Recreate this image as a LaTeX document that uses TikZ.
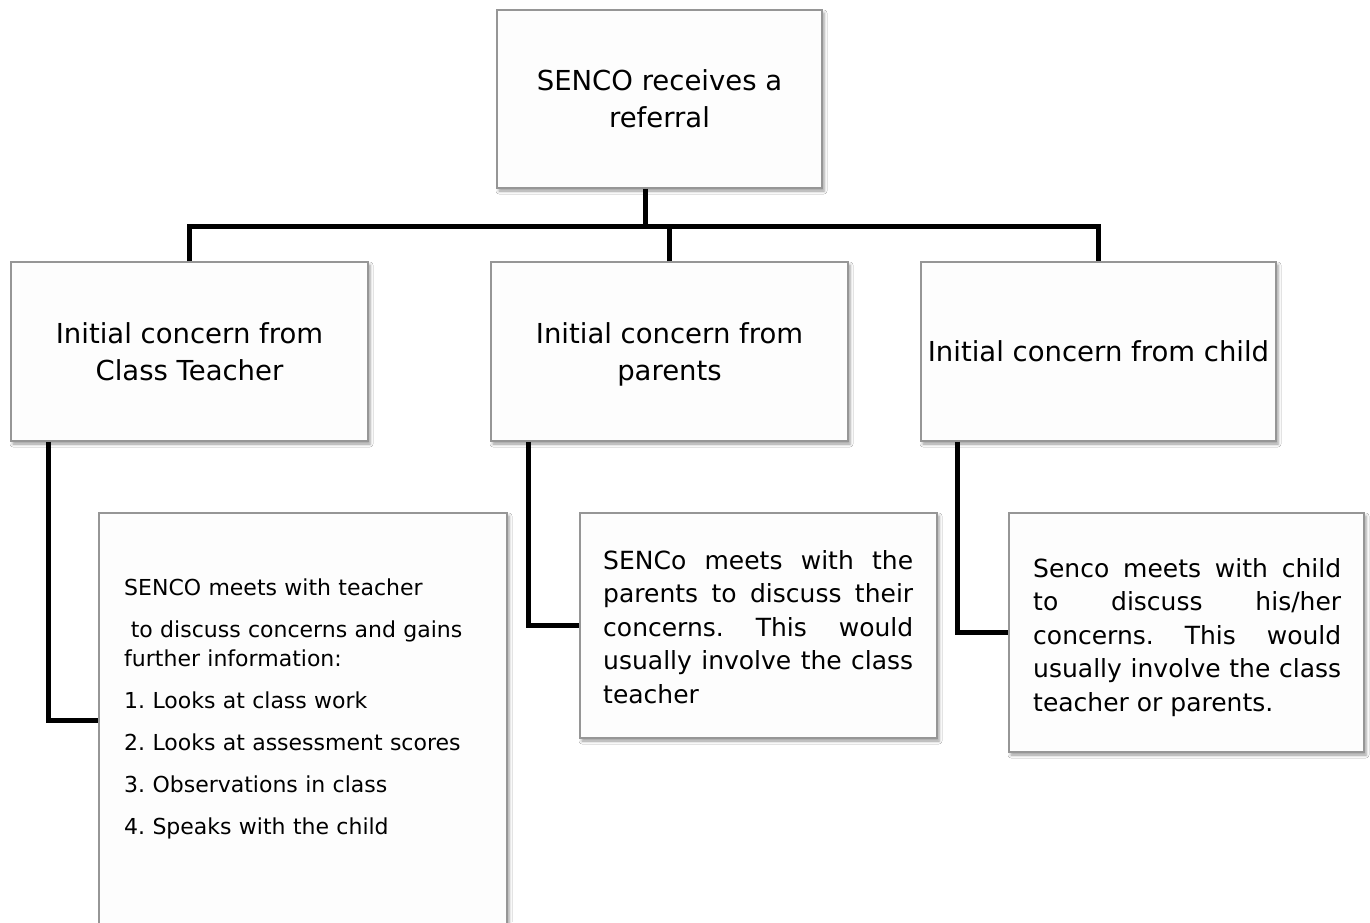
\documentclass[tikz,border=0pt]{standalone}
\usepackage{fontspec}
\setmainfont{DejaVu Sans}
\usetikzlibrary{shadows.blur}
\frenchspacing
\begin{document}
\begin{tikzpicture}[x=1pt,y=-1pt,
  box/.style={draw={rgb,255:red,150;green,150;blue,150}, line width=1.2pt,
    fill={rgb,255:red,253;green,253;blue,253}, inner sep=1pt,
    blur shadow={shadow xshift=2pt, shadow yshift=-3pt, shadow blur radius=3pt, shadow opacity=40}},
  title/.style={align=center, font=\fontsize{27.5}{37}\selectfont, text depth=0pt},
  conn/.style={line width=5pt, line join=miter},
  body/.style={anchor=base west, inner sep=0pt, align=justify, font=\fontsize{25}{33.5}\selectfont}]
\useasboundingbox (0,0) rectangle (1370,922);
\fill[white] (0,0) rectangle (1370,922);
\clip (0,0) rectangle (1370,922);

% boxes
\node[box,title,minimum width=325pt,minimum height=178pt] (T) at (659.5,99) {SENCO receives a\\referral};
\node[box,title,minimum width=357pt,minimum height=179pt] (L) at (189.5,351.5) {Initial concern from\\Class Teacher};
\node[box,title,minimum width=357pt,minimum height=179pt] (M) at (669.5,351.5) {Initial concern from\\parents};
\node[box,title,minimum width=355pt,minimum height=179pt] (R) at (1098.5,351.5) {Initial concern from child};
\node[box,minimum width=408pt,minimum height=414pt] (LD) at (303,720) {};
\node[box,minimum width=357pt,minimum height=225pt] (MD) at (758.5,625.5) {};
\node[box,minimum width=355pt,minimum height=239pt] (RD) at (1186.5,632.5) {};

% texts of detail boxes
\node[body, align=left, text width=390pt, font=\fontsize{22}{29}\selectfont] (LDt) at (124,595)
  {SENCO meets with teacher\\[13pt]\hspace*{0.3em}to discuss concerns and gains\\further information:\\[13pt]1. Looks at class work\\[13pt]2. Looks at assessment scores\\[13pt]3. Observations in class\\[13pt]4. Speaks with the child};
\node[body, text width=310pt] (MDt) at (603,569)
  {SENCo meets with the\linebreak parents to discuss their\linebreak concerns. This would\linebreak usually involve the class\linebreak teacher};
\node[body, text width=308pt] (RDt) at (1033,577)
  {Senco meets with child\linebreak to discuss his/her\linebreak concerns. This would\linebreak usually involve the class\linebreak teacher or parents.};

% connectors
\coordinate (bar) at (645,226);
\draw[conn] ([xshift=-14.5pt]T.south) -- (bar);
\draw[conn] (L.north) |- (bar) -| (R.north);
\draw[conn] (M.north) -- (M.north |- bar);
\draw[conn] ([xshift=-141.5pt]L.south) |- (LD.west);
\draw[conn] ([xshift=-141.5pt]M.south) |- (MD.west);
\draw[conn] ([xshift=-141.5pt]R.south) |- (RD.west);
\end{tikzpicture}
\end{document}
